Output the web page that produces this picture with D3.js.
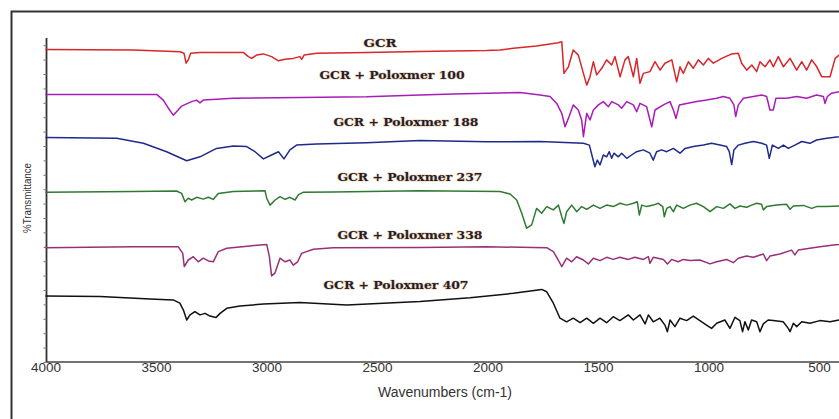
<!DOCTYPE html>
<html>
<head>
<meta charset="utf-8">
<script src="https://cdn.jsdelivr.net/npm/d3@7"></script>
<style>
  html, body { margin: 0; padding: 0; background: #fff; }
  svg { display: block; }
</style>
</head>
<body>
<svg id="chart" width="839" height="419"></svg>
<script>
// ---------- DATA (wavenumber cm-1, %T offset) ----------
const seriesNames = ["GCR", "GCR + Poloxmer 100", "GCR + Poloxmer 188", "GCR + Poloxmer 237", "GCR + Poloxmer 338", "GCR + Poloxmer 407"];
const xTickValues = [4000, 3500, 3000, 2500, 2000, 1500, 1000, 500];

const gcr = [
  [4000,104.2],[3603,104.0],[3391,103.4],[3373,102.9],[3364,99.6],[3354,100.7],[3343,102.9],[3301,103.2],
  [3105,103.2],[3082,101.8],[3067,101.2],[3045,102.3],[3014,102.7],[2977,101.8],[2946,100.4],[2916,100.9],
  [2879,101.2],[2849,101.8],[2841,100.9],[2830,102.3],[2773,102.9],[2547,103.2],[2306,103.5],[2004,103.8],
  [1943,104.0],[1883,104.6],[1778,105.3],[1680,106.4],[1664,106.8],
  [1654,96.2],[1634,98.4],[1612,104.0],[1589,102.3],[1551,92.3],[1536,95.1],[1521,100.1],[1506,95.7],
  [1483,97.9],[1461,100.7],[1438,99.0],[1423,101.8],[1400,95.1],[1378,100.7],[1363,101.8],[1340,95.1],
  [1325,101.2],[1310,92.9],[1295,96.2],[1265,96.8],[1242,100.1],[1219,97.3],[1197,99.6],[1166,100.7],
  [1144,93.4],[1129,98.4],[1114,96.2],[1091,100.1],[1069,97.9],[1046,100.7],[1023,99.0],[1001,101.2],
  [978,99.6],[940,101.2],[895,102.7],[865,102.9],[850,99.6],[827,97.3],[804,99.0],[782,96.8],[767,100.1],
  [744,98.4],[722,100.7],[707,98.4],[684,101.8],[661,98.4],[631,101.2],[601,97.3],[578,100.1],[556,97.3],
  [533,100.7],[510,98.4],[488,95.1],[450,95.1],[427,101.2],[409,102.3],[400,102.5]
];

const p100 = [
  [4000,89.2],[3678,89.2],[3497,89.2],[3467,87.3],[3444,84.6],[3422,82.3],[3407,83.4],[3384,85.3],
  [3339,86.8],[3316,87.3],[3301,86.4],[3286,87.3],[3226,87.6],[3150,87.9],[2849,88.2],[2547,88.4],
  [2306,89.0],[2155,89.3],[1853,89.8],[1762,89.0],[1717,88.5],[1687,86.2],[1664,82.9],[1649,78.4],
  [1634,81.2],[1612,85.7],[1589,84.0],[1574,80.7],[1566,75.1],[1551,82.9],[1536,80.7],[1521,84.0],
  [1498,85.7],[1476,86.8],[1453,85.1],[1438,86.8],[1408,85.7],[1393,84.6],[1370,86.8],[1340,85.7],
  [1325,83.4],[1310,86.2],[1280,85.1],[1257,78.4],[1242,84.0],[1204,85.7],[1174,86.8],[1159,84.0],
  [1147,81.2],[1132,85.7],[1099,86.2],[1054,86.8],[1008,87.3],[963,87.9],[933,88.5],[903,87.9],
  [885,85.7],[877,81.8],[865,85.7],[842,87.9],[797,88.5],[759,89.0],[737,88.5],[722,84.0],[707,84.0],
  [695,87.9],[646,87.9],[601,88.5],[556,87.9],[511,89.0],[480,88.5],[473,86.2],[462,88.5],[443,89.6],
  [409,90.1],[400,90.2]
];

const p188 = [
  [4000,74.8],[3678,74.6],[3557,72.9],[3452,70.1],[3361,67.1],[3301,68.4],[3226,71.2],[3150,72.0],
  [3090,71.8],[3052,70.1],[3014,67.7],[2977,69.0],[2946,70.1],[2921,67.7],[2894,70.7],[2864,72.3],
  [2773,72.7],[2547,73.1],[2306,73.8],[2004,73.4],[1762,73.5],[1566,72.9],[1539,72.3],[1524,67.9],
  [1514,65.1],[1503,67.3],[1491,65.7],[1476,69.0],[1461,68.4],[1449,70.1],[1438,67.9],[1428,69.6],
  [1408,68.4],[1393,69.6],[1370,67.9],[1348,69.0],[1325,70.1],[1295,70.7],[1265,69.6],[1250,67.3],
  [1235,70.1],[1212,70.7],[1189,70.1],[1159,71.2],[1129,69.6],[1106,71.2],[1069,71.8],[1023,72.3],
  [986,72.9],[948,72.3],[918,71.8],[906,70.1],[895,65.8],[885,70.7],[865,72.3],[835,72.9],[797,73.5],
  [759,72.9],[737,72.3],[725,67.9],[711,72.3],[684,71.2],[661,72.3],[639,71.2],[609,72.3],[578,73.5],
  [541,72.9],[511,74.0],[465,74.6],[409,75.1],[400,75.2]
];

const p237 = [
  [4000,56.6],[3603,56.8],[3407,57.0],[3384,56.2],[3369,53.4],[3354,54.6],[3339,54.0],[3316,54.9],
  [3286,54.3],[3263,54.9],[3241,54.2],[3218,56.2],[3150,56.8],[3007,57.1],[2999,54.6],[2984,52.3],
  [2961,54.0],[2939,55.1],[2916,54.2],[2894,54.9],[2871,54.0],[2856,55.7],[2833,56.6],[2698,56.7],
  [2306,57.1],[1943,56.8],[1898,56.0],[1868,54.0],[1845,49.6],[1823,44.6],[1800,45.7],[1778,51.2],
  [1755,49.6],[1732,51.8],[1702,50.7],[1679,52.3],[1664,48.4],[1654,46.2],[1642,50.1],[1619,52.3],
  [1596,50.1],[1574,51.8],[1551,50.9],[1521,52.3],[1491,51.2],[1461,52.3],[1431,51.8],[1400,52.9],
  [1370,52.3],[1340,52.9],[1322,53.4],[1313,49.0],[1302,52.3],[1280,51.8],[1250,52.3],[1227,52.9],
  [1207,51.8],[1200,48.4],[1189,51.2],[1174,51.8],[1159,50.1],[1144,52.3],[1114,51.2],[1084,52.3],
  [1054,52.9],[1023,51.8],[993,50.1],[963,51.8],[933,51.2],[903,52.7],[880,51.2],[858,52.0],[827,51.6],
  [805,52.3],[782,52.9],[760,52.6],[752,50.7],[737,51.8],[692,52.3],[647,52.6],[631,50.9],[616,52.0],
  [571,52.2],[533,51.2],[511,51.8],[466,51.8],[410,52.0],[400,52.0]
];

const p338 = [
  [4000,38.1],[3603,38.4],[3452,38.4],[3399,38.4],[3379,36.2],[3372,31.8],[3354,34.0],[3331,35.1],
  [3309,33.4],[3286,34.6],[3263,33.7],[3241,33.4],[3218,36.8],[3180,37.9],[3075,38.7],[2999,39.2],
  [2987,35.1],[2977,28.7],[2962,29.6],[2939,34.6],[2916,33.4],[2894,34.0],[2879,32.3],[2859,33.4],
  [2841,36.2],[2788,37.6],[2698,38.1],[2306,38.2],[2004,38.4],[1732,38.1],[1702,36.8],[1680,34.0],
  [1664,31.8],[1642,34.6],[1619,33.4],[1597,35.1],[1566,34.0],[1544,32.7],[1521,34.6],[1491,33.8],
  [1461,34.9],[1431,34.2],[1401,34.9],[1363,34.2],[1333,34.9],[1295,34.2],[1272,35.1],[1265,32.9],
  [1250,34.9],[1204,34.2],[1186,32.7],[1167,34.2],[1137,33.4],[1114,34.2],[1084,33.8],[1039,34.0],
  [993,32.7],[963,33.4],[918,34.2],[888,33.1],[865,34.6],[828,35.3],[797,34.9],[752,36.0],[737,33.8],
  [722,35.3],[677,36.0],[624,37.3],[609,35.7],[594,37.3],[541,37.9],[496,38.4],[435,39.0],[410,39.2],
  [400,39.3]
];

const p407 = [
  [4000,22.0],[3753,21.8],[3527,21.0],[3422,20.7],[3392,19.6],[3376,17.3],[3361,14.0],[3346,15.7],
  [3324,16.8],[3301,15.7],[3278,16.2],[3256,15.3],[3229,14.8],[3210,16.2],[3180,17.9],[3120,18.7],
  [3014,19.3],[2849,19.8],[2637,19.0],[2306,20.2],[2079,21.4],[1883,22.9],[1755,24.2],[1732,23.4],
  [1702,19.6],[1672,14.6],[1642,13.4],[1612,14.6],[1581,13.1],[1551,14.6],[1521,12.9],[1491,14.6],
  [1461,13.1],[1431,15.1],[1401,13.8],[1363,15.7],[1340,14.0],[1310,15.7],[1287,12.7],[1272,15.7],
  [1250,13.4],[1220,14.6],[1197,12.3],[1186,10.1],[1174,14.0],[1152,11.8],[1129,14.6],[1099,13.8],
  [1069,15.3],[1039,13.8],[1009,12.3],[986,11.2],[963,12.9],[926,14.0],[903,11.2],[880,14.9],[858,13.8],
  [846,10.1],[835,13.4],[820,10.7],[805,14.0],[782,13.4],[767,10.1],[752,12.7],[730,14.0],[707,13.8],
  [662,13.4],[639,11.2],[631,10.1],[616,12.9],[601,11.8],[578,13.4],[541,12.9],[496,13.8],[450,13.4],
  [410,14.0],[400,14.0]
];

const seriesData = [gcr, p100, p188, p237, p338, p407];

// ---------- STYLE / LAYOUT ----------
const colors = ["#d8262a", "#a81cb8", "#1f2a8a", "#2e7a30", "#9a2f78", "#111111"];
// label anchors in data units: [wavenumber, value]
const labelPos = [[2486, 105], [2432, 94.3], [2369, 78.7], [2351, 60.3], [2351, 41], [2414, 24.3]];

const svg = d3.select("#chart");
const W = 839, H = 419;

const x = d3.scaleLinear().domain([4000, 400]).range([45.5, 841.1]);
const y = d3.scaleLinear().domain([0, 108]).range([362, 38]);

// outer frame
svg.append("path")
  .attr("d", `M11.5,${H + 5} L11.5,11.5 L${W + 5},11.5`)
  .attr("fill", "none").attr("stroke", "#333").attr("stroke-width", 2);

// x axis
const xAxis = d3.axisBottom(x).tickValues(xTickValues).tickSize(0).tickPadding(9).tickFormat(d3.format("d"));
const gx = svg.append("g").attr("transform", "translate(0,361.5)").call(xAxis);
gx.select(".domain").attr("stroke", "#444").attr("stroke-width", 1.6);
gx.selectAll("text").attr("font-family", "Liberation Sans, Arial, sans-serif")
  .attr("font-size", "13.5px").attr("fill", "#333").attr("dy", "0.1em");

// y axis (no labels, small ticks)
const yTicks = d3.range(0, 108, 4.8);
const yAxis = d3.axisLeft(y).tickValues(yTicks).tickSize(3).tickFormat("");
const gy = svg.append("g").attr("transform", "translate(46.5,0)").call(yAxis);
gy.select(".domain").attr("stroke", "#333").attr("stroke-width", 1.8).attr("d", `M0,${y(108)}V${y(0)}`);
gy.selectAll(".tick line").attr("stroke", "#777").attr("stroke-width", 1);

// axis titles
svg.append("text").attr("x", 445).attr("y", 397).attr("text-anchor", "middle")
  .attr("font-family", "Liberation Sans, Arial, sans-serif").attr("font-size", "14px").attr("fill", "#333")
  .text("Wavenumbers (cm-1)");
svg.append("text").attr("transform", "translate(31,198) rotate(-90)").attr("text-anchor", "middle")
  .attr("font-family", "Liberation Sans, Arial, sans-serif").attr("font-size", "11px").attr("fill", "#333")
  .attr("textLength", 70).attr("lengthAdjust", "spacingAndGlyphs")
  .text("%Transmittance");

// spectra
const line = d3.line().x(d => x(d[0])).y(d => y(d[1]));
svg.append("g").selectAll("path").data(seriesData).join("path")
  .attr("d", line).attr("fill", "none")
  .attr("stroke", (d, i) => colors[i]).attr("stroke-width", 1.5)
  .attr("stroke-linejoin", "round");

// labels
svg.append("g").selectAll("text").data(seriesNames).join("text")
  .attr("x", (d, i) => x(labelPos[i][0])).attr("y", (d, i) => y(labelPos[i][1]))
  .attr("text-anchor", "middle")
  .attr("font-family", "DejaVu Serif, serif").attr("font-weight", "bold").attr("font-size", "10.5px")
  .attr("fill", "#1e1e3a").attr("stroke", "rgba(225,150,40,0.45)").attr("stroke-width", 1.2)
  .attr("paint-order", "stroke")
  .attr("textLength", (d, i) => i === 0 ? 33 : 145).attr("lengthAdjust", "spacingAndGlyphs")
  .text(d => d);
</script>
</body>
</html>
